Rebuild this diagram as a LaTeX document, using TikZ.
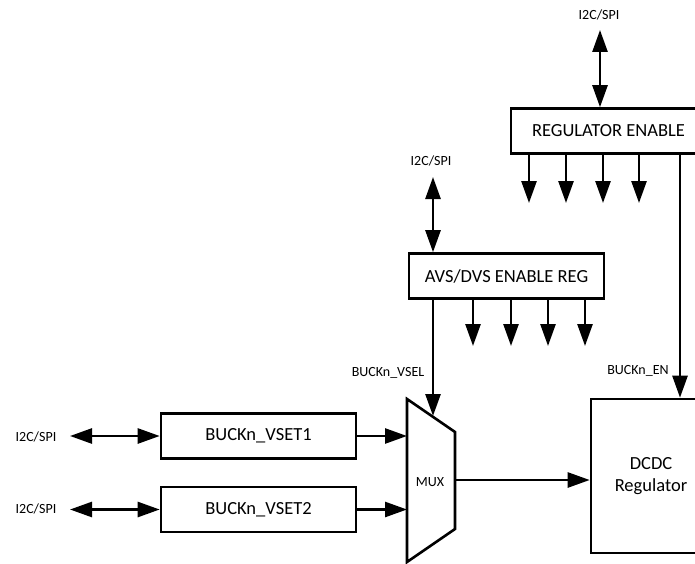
\documentclass[tikz,border=0pt]{standalone}
\usepackage{fontspec}
\setmainfont{Carlito}
\usetikzlibrary{arrows.meta}
\begin{document}
\begin{tikzpicture}[x=1pt,y=-1pt,
  blk/.style={draw,line width=2.6pt,minimum width=195pt,minimum height=45pt,inner sep=0pt,font=\fontsize{18.5}{20}\selectfont},
  lbl/.style={inner sep=0pt,font=\fontsize{14}{15}\selectfont},
  sig/.style={line width=2.6pt,-{Triangle[length=22pt,width=15pt]}},
  dbl/.style={line width=2.6pt,{Triangle[length=22pt,width=15pt]}-{Triangle[length=22pt,width=15pt]}},
  wire/.style={line width=2.6pt}]
\clip (0,0) rectangle (695,564);
\fill[white] (0,0) rectangle (695,564);
% blocks
\node[blk] (regen) at (608.5,131) {REGULATOR ENABLE};
\node[blk] (avs) at (506.5,276) {AVS/DVS ENABLE REG};
\node[blk] (vset1) at (258.5,436) {BUCKn\_VSET1};
\node[blk] (vset2) at (258.5,509.5) {BUCKn\_VSET2};
\node[blk,minimum width=120pt,minimum height=154pt,align=center,font=\fontsize{18.5}{22}\selectfont] (dcdc) at (651,476) {DCDC\\Regulator};
% mux
\draw[line width=2.6pt,line join=miter] (407,399) -- (455,432) -- (455,529) -- (407,562) -- cycle;
\node[lbl] (mux) at (430,482) {MUX};
\coordinate (muxin1) at (407,436);
\coordinate (muxin2) at (407,509.5);
\coordinate (muxout) at (455,480);
\coordinate (muxsel) at (433,416);
% labels
\node[lbl] (i2ctop) at (599,15) {I2C/SPI};
\node[lbl] (i2cavs) at (431,161) {I2C/SPI};
\node[lbl] (i2c1) at (36,437) {I2C/SPI};
\node[lbl] (i2c2) at (36,509) {I2C/SPI};
\node[lbl] (vsel) at (388,373) {BUCKn\_VSEL};
\node[lbl] (en) at (638,371) {BUCKn\_EN};
% bus arrows
\coordinate (t1) at (600,30);
\draw[dbl] (t1) -- (t1 |- regen.north);
\coordinate (t2) at (433,177);
\draw[dbl] (t2) -- (t2 |- avs.north);
\coordinate (l1) at (70,436);
\draw[dbl] (l1) -- (vset1.west);
\coordinate (l2) at (70,509.5);
\draw[dbl] (l2) -- (vset2.west);
% regulator enable outputs
\foreach \x [count=\i] in {529,566,603,639}{
  \coordinate (ro\i) at (\x,203);
  \draw[sig] (ro\i |- regen.south) -- (ro\i);
}
\foreach \x [count=\i] in {473,511,548,585}{
  \coordinate (ao\i) at (\x,346);
  \draw[sig] (ao\i |- avs.south) -- (ao\i);
}
% enable and select
\coordinate (enx) at (680,0);
\draw[sig] (enx |- regen.south) -- (enx |- dcdc.north);
\draw[sig] (muxsel |- avs.south) -- (muxsel);
% data path
\draw[sig] (vset1.east) -- (muxin1);
\draw[sig] (vset2.east) -- (muxin2);
\draw[sig] (muxout) -- (muxout -| dcdc.west);
\end{tikzpicture}
\end{document}
